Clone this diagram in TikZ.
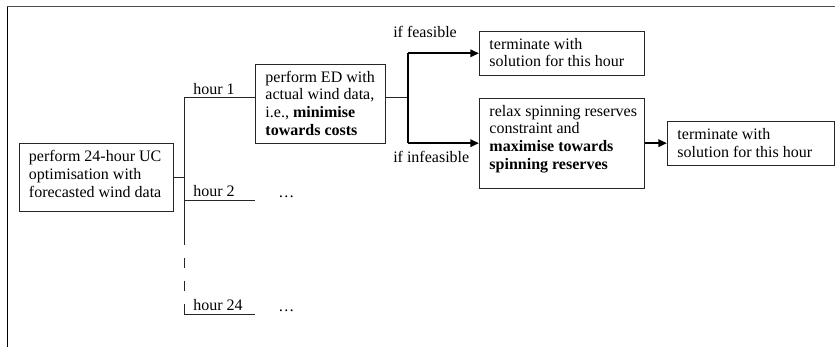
\documentclass[tikz,border=0pt]{standalone}
\usepackage{fontspec}
\setmainfont{Liberation Serif}
\usetikzlibrary{arrows.meta}
\newcommand\bxt[3]{\parbox[c][#2][t]{#1}{\leftskip=7.5pt\rightskip=0pt plus 1fil\parindent=0pt\parfillskip=0pt plus 1fil\fontsize{12}{13.3}\selectfont\rule{0pt}{13.5pt}#3}}
\begin{document}
\begin{tikzpicture}[x=0.75pt,y=-0.75pt,
  box/.style={draw=black!85, line width=0.7pt, inner sep=0pt, anchor=north west},
  lbl/.style={inner sep=0pt, anchor=base west, font=\fontsize{12}{13.3}\selectfont},
  conn/.style={line width=0.7pt, draw=black!85},
  thk/.style={line width=1.6pt, draw=black},
  arr/.style={-{Triangle[length=6.5pt,width=5.5pt]}}]
\useasboundingbox (0,0) rectangle (835,347);
% frame
\draw[line width=1.3pt, black!70] (7,6.5) -- (835,6.5);
\draw[line width=1.3pt] (7.5,6.5) -- (7.5,347);
% boxes
\node[box] (uc) at (18.5,143.3) {\bxt{115.9pt}{51pt}{perform 24-hour UC\\optimisation with\\forecasted wind data}};
\node[box] (ed) at (255,63.7) {\bxt{97.5pt}{59.7pt}{perform ED with\\actual wind data,\\i.e., \textbf{minimise}\\\textbf{towards costs}}};
\node[box] (fe) at (479,30.7) {\bxt{123.75pt}{33.2pt}{terminate with\\solution for this hour}};
\node[box] (rx) at (479,97.7) {\bxt{123.75pt}{67.5pt}{relax spinning reserves\\constraint and\\\textbf{maximise towards}\\\textbf{spinning reserves}}};
\node[box] (fn) at (667,121) {\bxt{124.9pt}{33pt}{terminate with\\solution for this hour}};
% labels
\node[lbl] (h1) at (193,94) {hour 1};
\node[lbl] (h2) at (193,196) {hour 2};
\node[lbl] (h24) at (193,310) {hour 24};
\node[lbl] (d2) at (278,197) {…};
\node[lbl] (d24) at (278,311) {…};
\node[lbl] (lf) at (393,37) {if feasible};
\node[lbl] (li) at (393,162) {if infeasible};
% coordinates
\coordinate (jt) at (184,97);
\coordinate (js) at (184,245);
\coordinate (j2) at (184,200);
\coordinate (jb) at (184,314);
\coordinate (e2) at (255,200);
\coordinate (e24) at (255,314);
\coordinate (sb) at (408,97);
% connectors
\draw[conn] (uc.east) -- (uc.east -| jt);
\draw[conn] (jt) -- (js);
\draw[conn, dash pattern=on 7.875pt off 9.375pt, dash phase=7.875pt] (js) -- (jb);
\draw[conn] (jt) -- (ed.west |- jt);
\draw[conn] (j2) -- (e2);
\draw[conn] (jb) -- (e24);
\draw[conn] (ed.east |- jt) -- (sb);
\draw[thk] (sb |- fe.west) -- (sb |- rx.west);
\draw[thk,arr] (sb |- fe.west) -- (fe.west);
\draw[thk,arr] (sb |- rx.west) -- (rx.west);
\draw[thk,arr] (rx.east) -- (rx.east -| fn.west);
\end{tikzpicture}
\end{document}
